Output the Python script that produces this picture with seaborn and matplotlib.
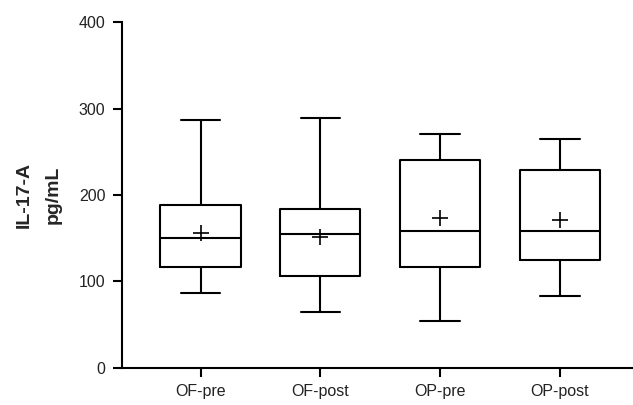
import numpy as np
import matplotlib
matplotlib.use("Agg")
import matplotlib.pyplot as plt
import seaborn as sns

# values (pg/mL)
groups = ["OF-pre", "OF-post", "OP-pre", "OP-post"]
mins = [86, 65, 54, 83]
q1s = [117, 106, 117, 125]
medians = [150, 155, 158, 158]
q3s = [188, 184, 240, 229]
maxs = [287, 289, 271, 265]
means = [156, 151, 173, 171]

sns.set_style("ticks")
plt.rcParams["font.family"] = ["Liberation Sans", "DejaVu Sans"]

stats = []
for g, lo, a, m, b, hi, mu in zip(groups, mins, q1s, medians, q3s, maxs, means):
    stats.append({"label": g, "whislo": lo, "q1": a, "med": m, "q3": b,
                  "whishi": hi, "mean": mu, "fliers": []})

fig = plt.figure(figsize=(6.33, 4.05), dpi=100)
ax = fig.add_axes([0.192, 0.092, 0.806, 0.853])

lw = 1.5
ax.bxp(stats, positions=np.arange(1, 5), widths=0.67, capwidths=0.33,
       showmeans=True, showfliers=False, patch_artist=False,
       boxprops=dict(color="black", linewidth=lw),
       whiskerprops=dict(color="black", linewidth=lw),
       capprops=dict(color="black", linewidth=lw),
       medianprops=dict(color="black", linewidth=lw),
       meanprops=dict(marker="+", markersize=12, markeredgecolor="black",
                      markeredgewidth=1.2))

ax.set_xlim(0.34, 4.6)
ax.set_ylim(0, 400)
ax.set_yticks([0, 100, 200, 300, 400])
ax.set_xticks(np.arange(1, 5))
ax.set_xticklabels(groups)
sns.despine(ax=ax)
for s in ["left", "bottom"]:
    ax.spines[s].set_linewidth(1.5)
    ax.spines[s].set_color("black")
ax.tick_params(axis="both", length=6.5, width=1.5, color="black",
               labelsize=11.5, labelcolor="#222222", pad=5)
ax.set_ylabel("IL-17-A\npg/mL", fontsize=14, fontweight="bold",
              labelpad=12, linespacing=1.95)

fig.savefig("out.png", dpi=100)
